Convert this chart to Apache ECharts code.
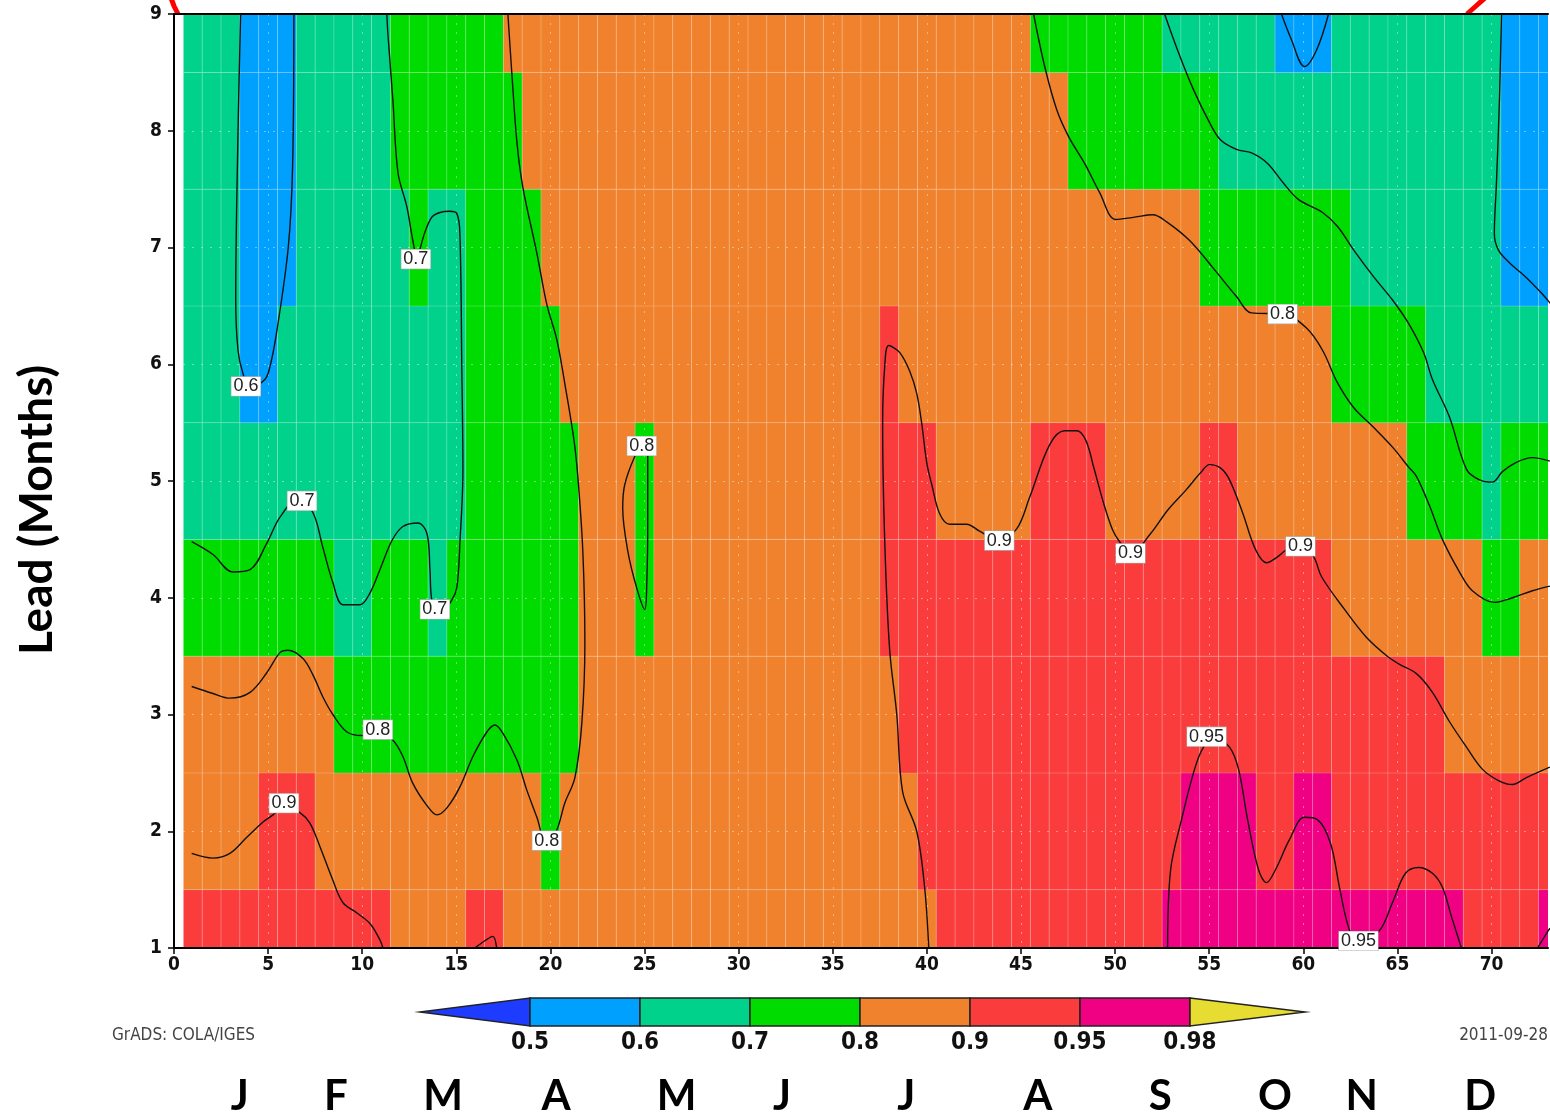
<!DOCTYPE html>
<html>
<head>
<meta charset="utf-8">
<title>Correlation by pentad and lead</title>
<script src="https://cdn.jsdelivr.net/npm/echarts@6.0.0/dist/echarts.min.js"></script>
<style>
  html, body { margin: 0; padding: 0; background: #fff; }
  #chart { width: 1550px; height: 1115px; }
</style>
</head>
<body>
<div id="chart"></div>
<script>
// shading levels and GrADS colours (below 0.5 ... above 0.98)
const levels = [0.5, 0.6, 0.7, 0.8, 0.9, 0.95, 0.98];
const shadeColors = ['#1e3cff', '#00a0ff', '#00d28c', '#00dc00', '#f0822d', '#fa3c3c', '#f00082', '#e6dc32'];

// month initials and the pentad each one sits under
const months = ['J', 'F', 'M', 'A', 'M', 'J', 'J', 'A', 'S', 'O', 'N', 'D'];
const monthPentad = [3.5, 8.6, 14.3, 20.3, 26.7, 32.3, 38.9, 45.9, 52.4, 58.5, 63.1, 69.4];

// shaded values per lead month, as runs of [value, number of pentads] from pentad 1 to 73
const lead1 = [[0.92, 11], [0.85, 4], [0.92, 2], [0.85, 23], [0.92, 12], [0.96, 16], [0.92, 4], [0.96, 1]];
const lead2 = [[0.85, 4], [0.92, 3], [0.85, 12], [0.75, 1], [0.85, 19], [0.92, 14], [0.96, 4], [0.92, 2], [0.96, 2], [0.92, 12]];
const lead3 = [[0.85, 8], [0.75, 13], [0.85, 17], [0.92, 29], [0.85, 6]];
const lead4 = [[0.75, 8], [0.65, 2], [0.75, 3], [0.65, 1], [0.75, 7], [0.85, 3], [0.75, 1], [0.85, 12], [0.92, 24], [0.85, 8], [0.75, 2], [0.85, 2]];
const lead5 = [[0.65, 15], [0.75, 6], [0.85, 3], [0.75, 1], [0.85, 12], [0.92, 3], [0.85, 5], [0.92, 4], [0.85, 5], [0.92, 2], [0.85, 9], [0.75, 4], [0.65, 1], [0.75, 3]];
const lead6 = [[0.65, 3], [0.55, 2], [0.65, 10], [0.75, 5], [0.85, 17], [0.92, 1], [0.85, 23], [0.75, 5], [0.65, 7]];
const lead7 = [[0.65, 3], [0.55, 3], [0.65, 6], [0.75, 1], [0.65, 2], [0.75, 4], [0.85, 35], [0.75, 8], [0.65, 8], [0.55, 3]];
const lead8 = [[0.65, 3], [0.55, 3], [0.65, 5], [0.75, 7], [0.85, 29], [0.75, 8], [0.65, 15], [0.55, 3]];
const lead9 = [[0.65, 3], [0.55, 3], [0.65, 5], [0.75, 6], [0.85, 28], [0.75, 7], [0.65, 6], [0.55, 3], [0.65, 9], [0.55, 3]];

// contour lines, [pentad, lead] points
const contour06a = [[3.54, 9.0], [3.40, 7.98], [3.28, 6.55], [3.40, 6.12], [3.65, 5.93], [4.04, 5.80], [4.83, 5.87], [5.10, 5.98], [5.45, 6.27], [6.07, 7.0], [6.30, 7.69], [6.37, 9.0]];
const contour06b = [[58.84, 9.0], [59.37, 8.78], [60.06, 8.55], [60.70, 8.69], [61.34, 9.0]];
const contour06c = [[70.53, 9.0], [70.42, 8.26], [70.26, 7.55], [70.15, 7.12], [70.36, 6.98], [70.95, 6.87], [71.80, 6.75], [72.65, 6.61], [73.13, 6.52]];
const contour07a = [[11.31, 9.0], [11.36, 8.84], [11.63, 8.26], [11.90, 7.64], [12.37, 7.35], [12.69, 7.06], [12.9, 6.93], [13.33, 7.13], [13.70, 7.26],
  [14.13, 7.30], [14.66, 7.31], [15.03, 7.29], [15.19, 7.12], [15.29, 5.98], [15.35, 5.09], [15.19, 4.47], [15.03, 4.09], [14.76, 3.98],
  [14.2, 3.88], [13.70, 3.98], [13.60, 4.24], [13.44, 4.55], [12.96, 4.64], [12.16, 4.61], [11.58, 4.49], [10.94, 4.24], [10.41, 4.04],
  [9.88, 3.94], [8.97, 3.94], [8.44, 4.13], [7.91, 4.43], [7.38, 4.73], [6.6, 4.85], [5.63, 4.69], [4.94, 4.47], [4.04, 4.24], [3.13, 4.22],
  [2.07, 4.37], [0.94, 4.48]];
const contour07b = [[52.63, 9.0], [53.32, 8.69], [54.17, 8.35], [55.02, 8.07], [55.61, 7.92], [56.45, 7.84], [57.25, 7.81], [58.10, 7.72],
  [58.95, 7.55], [59.75, 7.41], [61.02, 7.30], [61.82, 7.18], [62.67, 6.98], [63.73, 6.75], [64.74, 6.55], [65.59, 6.35], [66.39, 6.10],
  [66.86, 5.87], [67.76, 5.55], [68.67, 5.10], [69.36, 5.01], [70.05, 4.99], [70.58, 5.08], [71.32, 5.16], [72.17, 5.20], [73.1, 5.17]];
const contour08a = [[17.74, 9.0], [17.95, 8.49], [18.22, 7.90], [18.53, 7.52], [19.28, 6.95], [19.81, 6.51], [20.34, 6.21], [20.82, 5.78],
  [21.25, 5.35], [21.46, 5.03], [21.72, 4.40], [21.83, 3.61], [21.67, 2.93], [21.30, 2.46], [20.76, 2.24], [20.34, 2.01], [19.81, 1.88],
  [19.28, 2.12], [18.75, 2.35], [18.22, 2.61], [17.47, 2.84], [17.05, 2.91], [16.62, 2.85], [15.88, 2.64], [15.19, 2.38], [14.50, 2.20],
  [13.97, 2.14], [13.44, 2.22], [12.69, 2.41], [12.16, 2.64], [11.63, 2.78], [10.83, 2.85], [9.98, 2.82], [9.19, 2.85], [8.44, 3.00],
  [7.91, 3.15], [7.38, 3.34], [6.85, 3.48], [6.05, 3.55], [5.63, 3.53], [4.94, 3.36], [4.04, 3.19], [2.97, 3.14], [2.07, 3.18], [0.94, 3.24]];
const contour08b = [[24.85, 5.30], [24.48, 5.21], [23.95, 4.97], [23.84, 4.77], [24.11, 4.40], [24.59, 4.08], [25.01, 3.90], [25.12, 4.13],
  [25.17, 4.67], [25.17, 5.21], [24.85, 5.30]];
const contour08c = [[45.67, 9.0], [46.26, 8.55], [46.90, 8.18], [47.53, 7.95], [48.38, 7.72], [49.18, 7.47], [50.03, 7.24], [51.04, 7.26],
  [52.00, 7.28], [52.74, 7.22], [53.96, 7.06], [55.18, 6.83], [56.45, 6.58], [57.25, 6.44], [58.95, 6.43], [60.17, 6.31], [61.02, 6.12],
  [61.82, 5.84], [62.67, 5.63], [63.73, 5.46], [64.74, 5.29], [65.59, 5.12], [66.01, 5.04], [66.70, 4.79], [67.39, 4.50], [68.30, 4.22],
  [68.98, 4.06], [70.15, 3.96], [71.11, 4.00], [72.17, 4.06], [73.1, 4.10]];
const contour09a = [[0.94, 1.81], [2.07, 1.77], [2.97, 1.81], [3.88, 1.95], [4.73, 2.08], [5.26, 2.14], [5.84, 2.22], [6.69, 2.16],
  [7.22, 2.07], [7.75, 1.87], [8.44, 1.58], [8.97, 1.39], [9.72, 1.30], [10.41, 1.21], [10.94, 1.07], [11.10, 1.0]];
const contour09b = [[15.98, 1.0], [16.5, 1.06], [16.94, 1.10], [17.14, 1.0]];
const contour09c = [[40.10, 1.00], [39.88, 1.52], [39.46, 2.00], [38.71, 2.34], [38.40, 3.00], [38.02, 3.56], [37.76, 4.49], [37.65, 5.50],
  [37.76, 5.98], [37.97, 6.16], [38.56, 6.10], [39.09, 5.94], [39.46, 5.75], [39.72, 5.50], [39.99, 5.16], [40.26, 4.97], [40.68, 4.72],
  [41.21, 4.63], [42.11, 4.63], [42.80, 4.57], [43.81, 4.49], [44.77, 4.59], [45.46, 4.86], [46.52, 5.31], [47.32, 5.43], [47.96, 5.43],
  [48.44, 5.35], [48.86, 5.12], [49.39, 4.81], [49.87, 4.58], [50.24, 4.48], [50.83, 4.38], [51.89, 4.55], [52.79, 4.75], [53.75, 4.92],
  [54.54, 5.07], [55.02, 5.14], [55.61, 5.11], [56.08, 5.01], [56.77, 4.73], [57.47, 4.41], [58.05, 4.30], [58.63, 4.35], [59.11, 4.41],
  [59.91, 4.44], [60.55, 4.35], [60.97, 4.18], [62.19, 3.90], [63.36, 3.66], [64.53, 3.49], [65.11, 3.43], [66.01, 3.35], [66.86, 3.19],
  [67.76, 2.94], [68.67, 2.72], [69.52, 2.53], [70.42, 2.43], [71.11, 2.40], [71.85, 2.46], [73.1, 2.55]];
const contour095a = [[52.79, 1.0], [52.95, 1.67], [53.53, 2.10], [54.22, 2.53], [54.70, 2.72], [55.3, 2.80], [56.08, 2.72], [56.56, 2.53],
  [57.04, 2.10], [57.62, 1.67], [58.05, 1.56], [58.52, 1.67], [59.27, 1.93], [60.06, 2.12], [60.75, 2.10], [61.44, 1.90], [61.92, 1.52],
  [62.40, 1.18], [62.93, 1.03], [64.05, 1.15], [64.74, 1.39], [65.43, 1.64], [66.12, 1.69], [66.86, 1.64], [67.39, 1.52], [67.87, 1.27], [68.40, 1.0]];
const contour095b = [[72.44, 1.0], [73.1, 1.17]];

// contour labels: [pentad, lead, level]
const contourLabels = [
  [3.82, 5.81, 0.6], [12.85, 6.90, 0.7], [6.80, 4.83, 0.7], [13.86, 3.90, 0.7], [10.83, 2.87, 0.8], [5.84, 2.24, 0.9],
  [19.81, 1.92, 0.8], [24.85, 5.30, 0.8], [43.85, 4.49, 0.9], [50.82, 4.38, 0.9], [59.85, 4.44, 0.9], [58.90, 6.43, 0.8],
  [54.86, 2.81, 0.95], [62.93, 1.06, 0.95]
];

const leadRows = [lead1, lead2, lead3, lead4, lead5, lead6, lead7, lead8, lead9];
const contours = [contour06a, contour06b, contour06c, contour07a, contour07b, contour08a, contour08b, contour08c,
  contour09a, contour09b, contour09c, contour095a, contour095b];

// expand the runs into cells [pentad, lead bottom, lead top, value]
const cells = [];
leadRows.forEach((runs, i) => {
  const lead = i + 1;
  const y0 = Math.max(1, lead - 0.5);
  const y1 = Math.min(9, lead + 0.5);
  let pentad = 1;
  runs.forEach(([v, n]) => {
    for (let k = 0; k < n; k++) cells.push([pentad++, y0, y1, v]);
  });
});

const pieces = shadeColors.map((c, i) => {
  const p = { color: c };
  if (i > 0) p.gte = levels[i - 1];
  if (i < levels.length) p.lt = levels[i];
  return p;
});

const gradsFont = "'DejaVu Sans Condensed', 'Liberation Sans Narrow', 'DejaVu Sans', sans-serif";

function renderCell(params, api) {
  const x = api.value(0);
  const p0 = api.coord([x - 0.5, api.value(2)]);
  const p1 = api.coord([x + 0.5, api.value(1)]);
  return {
    type: 'rect',
    shape: { x: p0[0], y: p0[1], width: p1[0] - p0[0], height: p1[1] - p0[1] },
    style: { fill: api.visual('color'), stroke: 'rgba(255,255,255,0.16)', lineWidth: 1 }
  };
}

// white boxed level labels sitting on the contour lines
function renderContourLabel(params, api) {
  const p = api.coord([api.value(0), api.value(1)]);
  return {
    type: 'text',
    x: p[0], y: p[1],
    style: {
      text: String(api.value(2)),
      font: "18px 'Liberation Sans', Arial, sans-serif",
      fill: '#222',
      align: 'center',
      verticalAlign: 'middle',
      backgroundColor: '#fff',
      borderColor: '#aaa',
      borderWidth: 0.6,
      padding: [1, 2, 0, 2]
    }
  };
}

const chart = echarts.init(document.getElementById('chart'));

const frameAxis = {
  min: 0, type: 'value', z: 3,
  axisLine: { show: true, lineStyle: { color: '#000', width: 2 } },
  axisTick: { show: false }, axisLabel: { show: false }, splitLine: { show: false }
};

chart.setOption({
  animation: false,
  grid: { left: 174, right: 2, top: 14, bottom: 167 },
  visualMap: { type: 'piecewise', show: false, seriesIndex: 0, dimension: 3, pieces: pieces },
  xAxis: [
    {
      type: 'value', min: 0, max: 73, interval: 5, z: 3,
      axisLine: { show: true, onZero: false, lineStyle: { color: '#000', width: 2 } },
      axisTick: { show: true, length: 6, lineStyle: { color: '#000', width: 1.5 } },
      axisLabel: { fontSize: 19, color: '#111', fontFamily: gradsFont, fontWeight: 'bold', margin: 8, showMaxLabel: false },
      splitLine: { show: true, lineStyle: { color: 'rgba(255,255,255,0.4)', type: [2, 7] } }
    },
    Object.assign({}, frameAxis, { max: 73, position: 'top' })
  ],
  yAxis: [
    {
      type: 'value', min: 1, max: 9, interval: 1, z: 3,
      axisLine: { show: true, onZero: false, lineStyle: { color: '#000', width: 2 } },
      axisTick: { show: true, length: 6, lineStyle: { color: '#000', width: 1.5 } },
      axisLabel: { fontSize: 19, color: '#111', fontFamily: gradsFont, fontWeight: 'bold', margin: 12 },
      splitLine: { show: true, lineStyle: { color: 'rgba(255,255,255,0.4)', type: [2, 7] } }
    },
    Object.assign({}, frameAxis, { min: 1, max: 9, position: 'right' })
  ],
  series: [
    {
      type: 'custom',
      renderItem: renderCell,
      data: cells,
      encode: { x: 0, y: [1, 2] },
      clip: true,
      silent: true,
      z: 1
    }
  ].concat(contours.map(pts => ({
    type: 'line',
    data: pts,
    smooth: 0.35,
    symbol: 'none',
    showSymbol: false,
    clip: true,
    silent: true,
    lineStyle: { color: '#111', width: 1.4 },
    z: 5
  }))).concat([{
    type: 'custom',
    renderItem: renderContourLabel,
    data: contourLabels,
    encode: { x: 0, y: 1 },
    clip: false,
    silent: true,
    z: 6
  }])
});

// colour bar, footer texts, month letters, axis title
const graphics = [];
const barLeft = 530, boxW = 110, barTop = 998, barH = 28;
graphics.push({
  type: 'polygon',
  shape: { points: [[420, barTop + barH / 2], [barLeft, barTop], [barLeft, barTop + barH]] },
  style: { fill: shadeColors[0], stroke: '#222', lineWidth: 1.5 }
});
for (let i = 1; i < shadeColors.length - 1; i++) {
  graphics.push({
    type: 'rect',
    shape: { x: barLeft + (i - 1) * boxW, y: barTop, width: boxW, height: barH },
    style: { fill: shadeColors[i], stroke: '#222', lineWidth: 1.5 }
  });
}
const barRight = barLeft + (shadeColors.length - 2) * boxW;
graphics.push({
  type: 'polygon',
  shape: { points: [[barRight, barTop], [barRight + 115, barTop + barH / 2], [barRight, barTop + barH]] },
  style: { fill: shadeColors[shadeColors.length - 1], stroke: '#222', lineWidth: 1.5 }
});
levels.forEach((lv, i) => {
  graphics.push({
    type: 'text', x: barLeft + i * boxW, y: 1043,
    style: { text: String(lv), font: 'bold 24px ' + gradsFont, fill: '#111', textAlign: 'center', textVerticalAlign: 'middle' }
  });
});
graphics.push({
  type: 'text', x: 112, y: 1036,
  style: { text: 'GrADS: COLA/IGES', font: '17px ' + gradsFont, fill: '#444', textAlign: 'left', textVerticalAlign: 'middle' }
});
graphics.push({
  type: 'text', x: 1548, y: 1036,
  style: { text: '2011-09-28', font: '17px ' + gradsFont, fill: '#444', textAlign: 'right', textVerticalAlign: 'middle' }
});
months.forEach((m, i) => {
  const px = chart.convertToPixel({ xAxisIndex: 0 }, monthPentad[i]);
  graphics.push({
    type: 'text', x: px, y: 1096,
    style: { text: m, font: 'bold 42px Lato, "Open Sans", sans-serif', fill: '#000', textAlign: 'center', textVerticalAlign: 'middle' }
  });
});
graphics.push({
  type: 'text', x: 37, y: 510, rotation: Math.PI / 2,
  style: { text: 'Lead (Months)', font: 'bold 46px Lato, "Open Sans", sans-serif', fill: '#000', textAlign: 'center', textVerticalAlign: 'middle' }
});
// red marks cut off at the top edge
graphics.push({
  type: 'polyline', shape: { points: [[171, -2], [174, 6], [178, 14]] },
  style: { stroke: '#ff0000', lineWidth: 5, fill: null }
});
graphics.push({
  type: 'polyline', shape: { points: [[1485, -2], [1476, 6], [1467, 14]] },
  style: { stroke: '#ff0000', lineWidth: 5, fill: null }
});

chart.setOption({ graphic: graphics });
</script>
</body>
</html>
